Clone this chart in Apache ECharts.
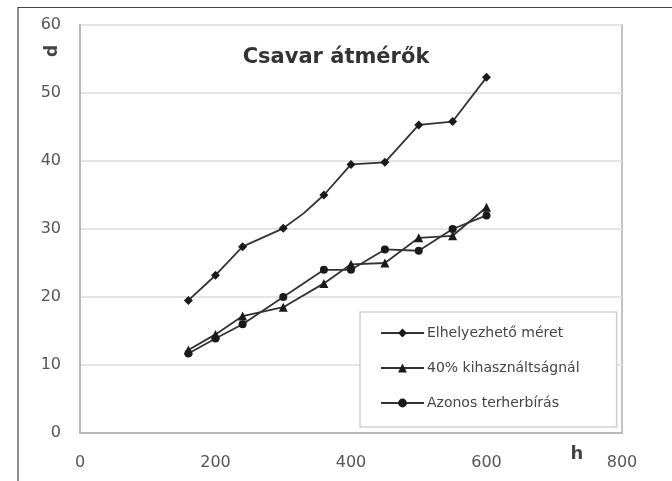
<!DOCTYPE html>
<html>
<head>
<meta charset="utf-8">
<script src="https://cdn.jsdelivr.net/npm/echarts@6/dist/echarts.min.js"></script>
<style>
html,body{margin:0;padding:0;background:#fff;}
#chart{width:672px;height:481px;}
</style>
</head>
<body>
<div id="chart"></div>
<script>
// ---- data ----
const titleText = 'Csavar átmérők';
const xAxisName = 'h';
const yAxisName = 'd';
const seriesNames = ['Elhelyezhető méret', '40% kihasználtságnál', 'Azonos terherbírás'];

const elhelyezhetoX = [160, 200, 240, 300, 330, 360, 400, 450, 500, 550, 600];
const elhelyezhetoY = [19.5, 23.2, 27.4, 30.1, 32.3, 35.0, 39.5, 39.8, 45.3, 45.8, 52.3];
const elhelyezhetoNoMarker = [330]; // bend point without marker

const kihasznaltsagX = [160, 200, 240, 300, 360, 400, 450, 500, 550, 600];
const kihasznaltsagY = [12.2, 14.5, 17.2, 18.5, 22.0, 24.8, 25.0, 28.7, 29.0, 33.2];

const azonosX = [160, 200, 240, 300, 360, 400, 450, 500, 550, 600];
const azonosY = [11.7, 13.9, 16.0, 20.0, 24.0, 24.0, 27.0, 26.8, 30.0, 32.0];

const xTicks = [0, 200, 400, 600, 800];
const yTicks = [0, 10, 20, 30, 40, 50, 60];

// ---- chart ----
const FONT = '"DejaVu Sans", Arial, sans-serif';
const chart = echarts.init(document.getElementById('chart'), null, {renderer: 'canvas'});

function pairs(xs, ys, noMarker) {
  return xs.map((x, i) => {
    const item = {value: [x, ys[i]]};
    if (noMarker && noMarker.indexOf(x) >= 0) item.symbol = 'none';
    return item;
  });
}

const lineStyle = {color: '#333', width: 1.8};
const itemStyle = {color: '#1a1a1a'};

const option = {
  backgroundColor: '#fff',
  animation: false,
  title: {
    text: titleText,
    left: 'center',
    top: 42,
    textStyle: {fontFamily: FONT, fontSize: 21, fontWeight: 'bold', color: '#333'}
  },
  grid: {
    left: 80, right: 50, top: 25, bottom: 48,
    show: true, borderColor: '#c4c4c4', borderWidth: 2, backgroundColor: '#fff',
    containLabel: false
  },
  legend: {
    orient: 'vertical',
    left: 360, top: 312,
    padding: [14, 37, 17, 20],
    itemGap: 21,
    itemWidth: 43, itemHeight: 11,
    borderColor: '#cfcfcf', borderWidth: 1.5,
    backgroundColor: '#fff',
    textStyle: {fontFamily: FONT, fontSize: 14, color: '#444', padding: [0, 0, 0, -2]},
    data: seriesNames
  },
  xAxis: {
    type: 'value', min: xTicks[0], max: xTicks[xTicks.length - 1], interval: 200,
    axisLine: {show: true, lineStyle: {color: '#b8b8b8', width: 2}},
    axisTick: {show: false},
    splitLine: {show: false},
    axisLabel: {fontFamily: FONT, fontSize: 16, color: '#555', margin: 22}
  },
  yAxis: {
    type: 'value', min: yTicks[0], max: yTicks[yTicks.length - 1], interval: 10,
    axisLine: {show: true, lineStyle: {color: '#b8b8b8', width: 2}},
    axisTick: {show: false},
    splitLine: {show: true, lineStyle: {color: '#e4e4e4', width: 2}},
    axisLabel: {fontFamily: FONT, fontSize: 16, color: '#555', margin: 19}
  },
  graphic: [
    {type: 'polyline', shape: {points: [[18, 481], [18, 7.5], [672, 7.5]]},
     style: {stroke: '#444', lineWidth: 1.2, fill: null}, silent: true},
    {type: 'text', x: 53, y: 51, rotation: Math.PI / 2,
     style: {text: yAxisName, font: 'bold 17px ' + FONT, fill: '#444', align: 'center', verticalAlign: 'middle'}},
    {type: 'text', x: 577, y: 454,
     style: {text: xAxisName, font: 'bold 18px ' + FONT, fill: '#444', align: 'center', verticalAlign: 'middle'}}
  ],
  series: [
    {name: seriesNames[0], type: 'line', data: pairs(elhelyezhetoX, elhelyezhetoY, elhelyezhetoNoMarker),
     symbol: 'diamond', symbolSize: 9, lineStyle: lineStyle, itemStyle: itemStyle},
    {name: seriesNames[1], type: 'line', data: pairs(kihasznaltsagX, kihasznaltsagY),
     symbol: 'triangle', symbolSize: 9, lineStyle: lineStyle, itemStyle: itemStyle},
    {name: seriesNames[2], type: 'line', data: pairs(azonosX, azonosY),
     symbol: 'circle', symbolSize: 8, lineStyle: lineStyle, itemStyle: itemStyle}
  ]
};
chart.setOption(option);
</script>
</body>
</html>
